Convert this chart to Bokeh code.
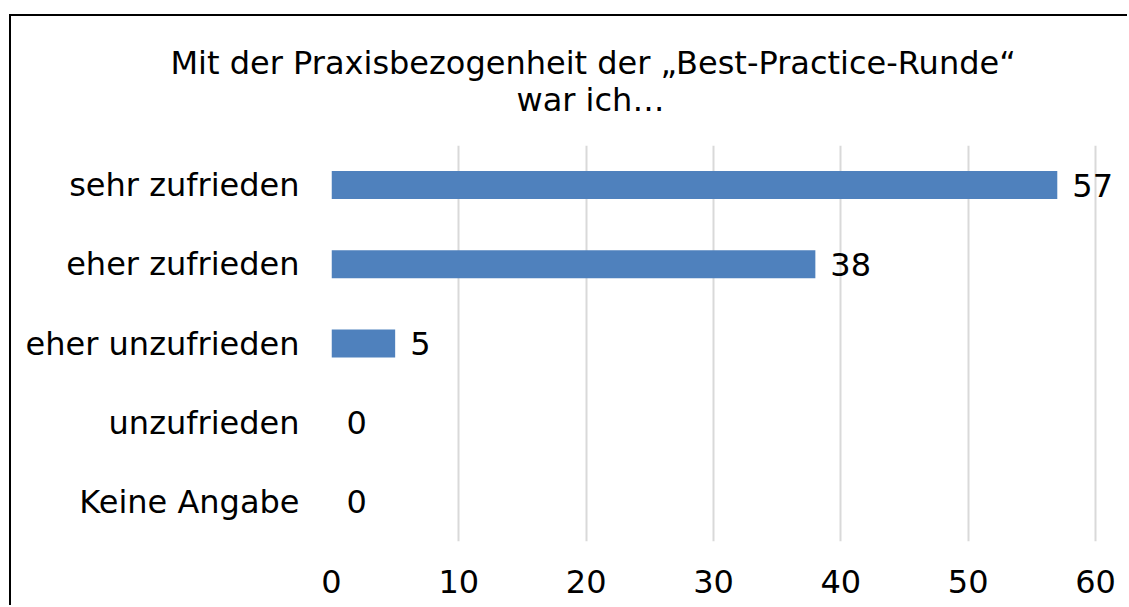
from bokeh.plotting import figure
from bokeh.models import ColumnDataSource, FixedTicker, Title, Range1d, FactorRange
from bokeh.core.properties import value
from bokeh.embed import file_html
from bokeh.resources import INLINE

categories = ["sehr zufrieden", "eher zufrieden", "eher unzufrieden", "unzufrieden", "Keine Angabe"]
counts = [57, 38, 5, 0, 0]
x_ticks = [0, 10, 20, 30, 40, 50, 60]
title_lines = ["Mit der Praxisbezogenheit der \u201eBest-Practice-Runde\u201c", "war ich\u2026"]

FONT = "DejaVu Sans"
BAR_COLOR = "#4f81bd"

src = ColumnDataSource(dict(cat=categories, val=counts, lab=[str(v) for v in counts]))

p = figure(
    width=1118, height=591,
    y_range=FactorRange(*list(reversed(categories))),
    x_range=Range1d(0, 62.2),
    output_backend="svg", toolbar_location=None,
    min_border_left=320, min_border_right=6, min_border_top=129, min_border_bottom=66,
)
p.styles = {"border-top": "2px solid #000", "border-left": "2px solid #000",
            "margin-top": "14px", "margin-left": "9px"}
p.outline_line_color = None
p.background_fill_color = "white"
p.border_fill_color = "white"

p.hbar(y="cat", right="val", left=0, height=0.354, source=src, color=BAR_COLOR, line_color=None)
p.text(x="val", y="cat", text="lab", source=src, x_offset=15, text_baseline="middle",
       text_align="left", text_font=value(FONT), text_font_size="32px", text_color="black")

p.xaxis.ticker = FixedTicker(ticks=x_ticks)
p.xgrid.ticker = FixedTicker(ticks=x_ticks)
p.xgrid.grid_line_color = "#d9d9d9"
p.xgrid.grid_line_width = 2
p.ygrid.grid_line_color = None

for ax in (p.xaxis[0], p.yaxis[0]):
    ax.axis_line_color = None
    ax.major_tick_line_color = None
    ax.minor_tick_line_color = None
    ax.major_label_text_font = FONT
    ax.major_label_text_color = "black"

p.xaxis.major_label_text_font_size = "32px"
p.xaxis.major_label_standoff = 22
p.yaxis.major_label_text_font_size = "32px"
p.yaxis.major_label_standoff = 26

p.add_layout(Title(text=title_lines[1], align="left", offset=185, standoff=53,
                   text_font=FONT, text_font_size="32px", text_font_style="normal",
                   text_color="black"), "above")
p.add_layout(Title(text=title_lines[0], align="left", offset=-161, standoff=-58,
                   text_font=FONT, text_font_size="32px", text_font_style="normal",
                   text_color="black"), "above")

open("out.html", "w").write(file_html(p, INLINE))
